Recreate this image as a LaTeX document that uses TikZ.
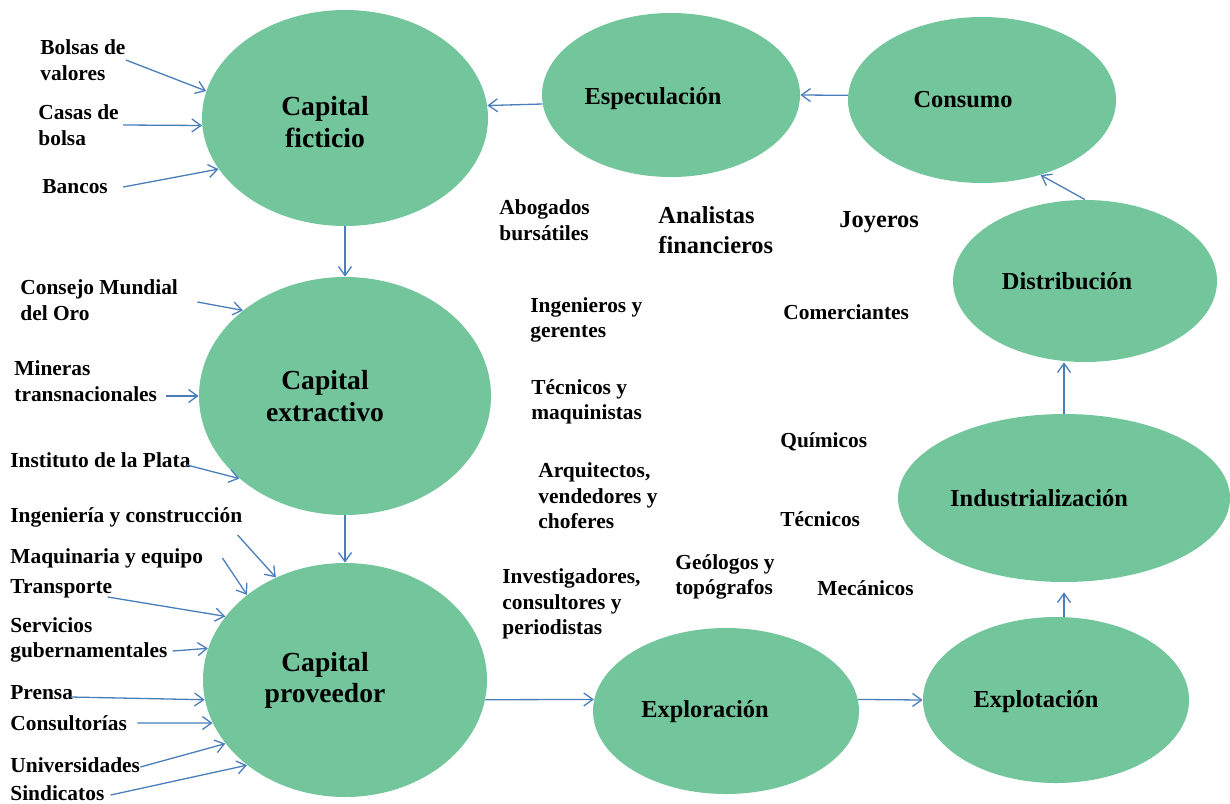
\documentclass[tikz,border=0pt]{standalone}
\usepackage{fontspec}
\setmainfont{Liberation Serif}
\usetikzlibrary{shapes.geometric, arrows.meta}
\definecolor{bubble}{HTML}{73C69B}
\definecolor{arrowc}{HTML}{4A7EBB}
\tikzset{
  stage/.style={ellipse, fill=bubble, inner sep=0pt},
  captxt/.style={align=center, inner sep=0pt, font=\bfseries\fontsize{13.8}{15.6}\selectfont},
  stagetxt/.style={align=center, inner sep=0pt, font=\bfseries\fontsize{12.2}{15}\selectfont},
  tag/.style={anchor=west, align=left, inner sep=0pt, font=\bfseries\fontsize{10.7}{12.8}\selectfont},
  midtag/.style={anchor=west, align=left, inner sep=0pt, font=\bfseries\fontsize{12.2}{15}\selectfont},
  feed/.style={draw=arrowc, line width=0.65pt, -{Straight Barb[length=4.5pt,width=6.5pt]}}
}

\begin{document}
\begin{tikzpicture}[x=0.5pt, y=-0.5pt]
\useasboundingbox (0,0) rectangle (1230,803);

% stages
\node[stage, minimum width=143pt, minimum height=108pt] (fict) at (345,118) {};
\node[stage, minimum width=146pt, minimum height=119pt] (extr) at (345,396) {};
\node[stage, minimum width=142pt, minimum height=117pt] (prov) at (345,680) {};
\node[stage, minimum width=129pt, minimum height=82pt] (espec) at (671,95) {};
\node[stage, minimum width=134pt, minimum height=83pt] (cons) at (982,100) {};
\node[stage, minimum width=132pt, minimum height=81pt] (distr) at (1085,281) {};
\node[stage, minimum width=166pt, minimum height=84pt] (indus) at (1064,498) {};
\node[stage, minimum width=133pt, minimum height=83pt] (explot) at (1056,700) {};
\node[stage, minimum width=133pt, minimum height=83pt] (explor) at (726,711) {};

\node[captxt] (fict-t) at ([xshift=-10pt, yshift=-2pt]fict.center) {Capital\\ficticio};
\node[captxt] (extr-t) at ([xshift=-10pt]extr.center) {Capital\\extractivo};
\node[captxt] (prov-t) at ([xshift=-10pt]prov.center) {Capital\\proveedor};
\node[stagetxt] (espec-t) at ([xshift=-9pt, yshift=-2pt]espec.center) {Especulación};
\node[stagetxt] (cons-t) at ([xshift=-9.5pt]cons.center) {Consumo};
\node[stagetxt] (distr-t) at ([xshift=-9pt]distr.center) {Distribución};
\node[stagetxt] (indus-t) at ([xshift=-12.5pt]indus.center) {Industrialización};
\node[stagetxt] (explot-t) at ([xshift=-10pt, yshift=-1pt]explot.center) {Explotación};
\node[stagetxt] (explor-t) at ([xshift=-10.5pt, yshift=-0.5pt]explor.center) {Exploración};

% actors on the left
\node[tag] (bolsa) at (40,60) {Bolsas de\\valores};
\node[tag] (casa) at (38,125) {Casas de\\bolsa};
\node[tag] (banc) at (42,187) {Bancos};
\node[tag] (mundo) at (20,300) {Consejo Mundial\\del Oro};
\node[tag] (miner) at (14,381) {Mineras\\transnacionales};
\node[tag] (inst) at (10,460) {Instituto de la Plata};
\node[tag] (ingc) at (10,517) {Ingeniería y construcción};
\node[tag] (maq) at (10,558) {Maquinaria y equipo};
\node[tag] (trans) at (10,589) {Transporte};
\node[tag] (serv) at (10,640) {Servicios\\gubernamentales};
\node[tag] (prensa) at (10,693) {Prensa};
\node[tag] (consul) at (10,723) {Consultorías};
\node[tag] (univ) at (10,765) {Universidades};
\node[tag] (sind) at (10,793) {Sindicatos};

% workers in the middle
\node[tag] (abog) at (499,220) {Abogados\\bursátiles};
\node[midtag] (anal) at (658,230) {Analistas\\financieros};
\node[midtag] (joy) at (839,222) {Joyeros};
\node[tag] (ing) at (530,320) {Ingenieros y\\gerentes};
\node[tag] (com) at (783,312) {Comerciantes};
\node[tag] (tec) at (531,402) {Técnicos y\\maquinistas};
\node[tag] (quim) at (780,442) {Químicos};
\node[tag] (arq) at (538,496) {Arquitectos,\\vendedores y\\choferes};
\node[tag] (tecn) at (780,519) {Técnicos};
\node[tag] (geo) at (675,577) {Geólogos y\\topógrafos};
\node[tag] (inv) at (502,604) {Investigadores,\\consultores y\\periodistas};
\node[tag] (mec) at (817,588) {Mecánicos};

% feeds into the capitals
\draw[feed] (bolsa.east) -- (fict.169);
\draw[feed] ([xshift=2pt]casa.east) -- (fict.183);
\draw[feed] ([xshift=7.5pt]banc.east) -- (fict.202);
\draw[feed] ([xshift=9.5pt, yshift=-1pt]mundo.east) -- (extr.140);
\draw[feed] ([xshift=4.5pt, yshift=-7.5pt]miner.east) -- (extr.180);
\draw[feed] ([xshift=-2pt, yshift=-2.5pt]inst.east) -- (extr.218);
\draw[feed] ([xshift=-2.5pt, yshift=-9pt]ingc.east) -- (prov.124);
\draw[feed] ([xshift=9.5pt]maq.east) -- (prov.139);
\draw[feed] ([xshift=-2.5pt, yshift=-4pt]trans.east) -- (prov.152);
\draw[feed] ([xshift=2.5pt, yshift=-5.5pt]serv.east) -- (prov.167);
\draw[feed] ([xshift=-1.5pt, yshift=-2pt]prensa.east) -- (prov.188);
\draw[feed] ([xshift=5pt]consul.east) -- (prov.198);
\draw[feed] ([yshift=-1pt]univ.east) -- (prov.208);
\draw[feed] ([xshift=3pt, yshift=-1pt]sind.east) -- (prov.221);

% cycle
\draw[feed] (fict) -- (extr);
\draw[feed] (extr) -- (prov);
\draw[feed] (prov.-8) -- (explor.175);
\draw[feed] (explor.5) -- (explot.west);
\draw[feed, shorten >=5pt] (indus.south |- explot.north) -- (indus.south);
\draw[feed] (indus.north) -- (indus.north |- distr.south);
\draw[feed] (distr.north) -- (cons.-52);
\draw[feed] (cons.178) -- (espec.east);
\draw[feed] (espec.184) -- (fict.5);
\end{tikzpicture}
\end{document}
